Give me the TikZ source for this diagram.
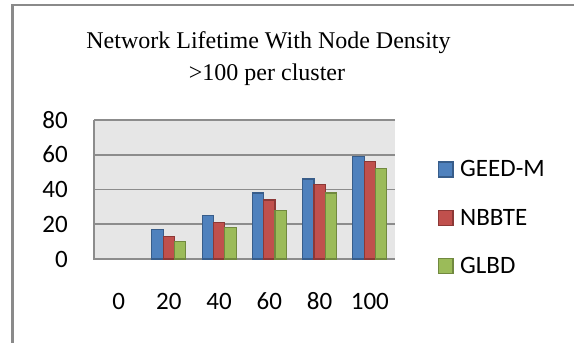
\documentclass[tikz,border=0pt]{standalone}
\usepackage{fontspec}
\setmainfont{Liberation Serif}
\newfontfamily\chartfont{Carlito}
\definecolor{framegray}{HTML}{8A8A8A}
\definecolor{gridgray}{HTML}{8C8C8C}
\definecolor{plotbg}{HTML}{E6E6E6}
\definecolor{sblue}{HTML}{4F81BD}
\definecolor{sbluedk}{HTML}{385D8A}
\definecolor{sred}{HTML}{C0504D}
\definecolor{sreddk}{HTML}{8C3836}
\definecolor{sgreen}{HTML}{9BBB59}
\definecolor{sgreendk}{HTML}{71893F}
\tikzset{
  titletext/.style={font=\fontsize{24}{32}\selectfont, align=center, inner sep=0pt},
  ticktext/.style={font=\chartfont\fontsize{25}{30}\selectfont, inner sep=0pt},
  gridline/.style={draw=gridgray, line width=1.6pt},
  barA/.style={fill=sblue, draw=sbluedk, line width=1.2pt},
  barB/.style={fill=sred, draw=sreddk, line width=1.2pt},
  barC/.style={fill=sgreen, draw=sgreendk, line width=1.2pt},
}
\begin{document}
\begin{tikzpicture}[x=1pt, y=-1pt]
\useasboundingbox (0,0) rectangle (574,343);
% outer chart frame (runs past the page on the right and bottom)
\begin{scope}
\clip (0,0) rectangle (574,343);
\draw[framegray, line width=2.6pt] (12.5,345) -- (12.5,5) -- (580,5);
\end{scope}

% title
\node[titletext, anchor=base] (t1) at (268.5,48) {Network Lifetime With Node Density};
\node[titletext, anchor=base] (t2) at (267,80) {>100 per cluster};

% plot area
\fill[plotbg] (94,120) rectangle (395,259);
\foreach \yy in {120,154.75,189.5,224.25} {
  \draw[gridline] (94,\yy) -- (395,\yy);
}
\draw[gridline] (94,120) -- (94,259) -- (395,259);

% y tick labels
\foreach \v/\yy in {80/120,60/154.75,40/189.5,20/224.25,0/259} {
  \node[ticktext, anchor=base east] (y\v) at (68,\yy+8) {\v};
}

% bars: value * 139/80 px
\def\u{1.7375}
\foreach \c/\a/\b/\g [count=\i from 1] in {20/17/13/10, 40/25/21/18, 60/38/34/28, 80/46/43/38, 100/59/56/52} {
  \pgfmathsetmacro{\cx}{118.6+50.25*\i}
  \draw[barA] (\cx-17,259) rectangle (\cx-5.7,259-\a*\u);
  \draw[barB] (\cx-5.7,259) rectangle (\cx+5.6,259-\b*\u);
  \draw[barC] (\cx+5.6,259) rectangle (\cx+17,259-\g*\u);
}

% x tick labels
\foreach \c [count=\i from 0] in {0,20,40,60,80,100} {
  \node[ticktext, anchor=base] (x\c) at (118.6+50.25*\i,309) {\c};
}

% legend
\draw[barA] (438.5,162) rectangle (453,177);
\node[ticktext, anchor=base west] (lg1) at (460,176.7) {GEED-M};
\draw[barB] (438.5,210.5) rectangle (453,225.5);
\node[ticktext, anchor=base west] (lg2) at (460,225) {NBBTE};
\draw[barC] (438.5,258.5) rectangle (453,273.5);
\node[ticktext, anchor=base west] (lg3) at (460,273.3) {GLBD};
\end{tikzpicture}
\end{document}
